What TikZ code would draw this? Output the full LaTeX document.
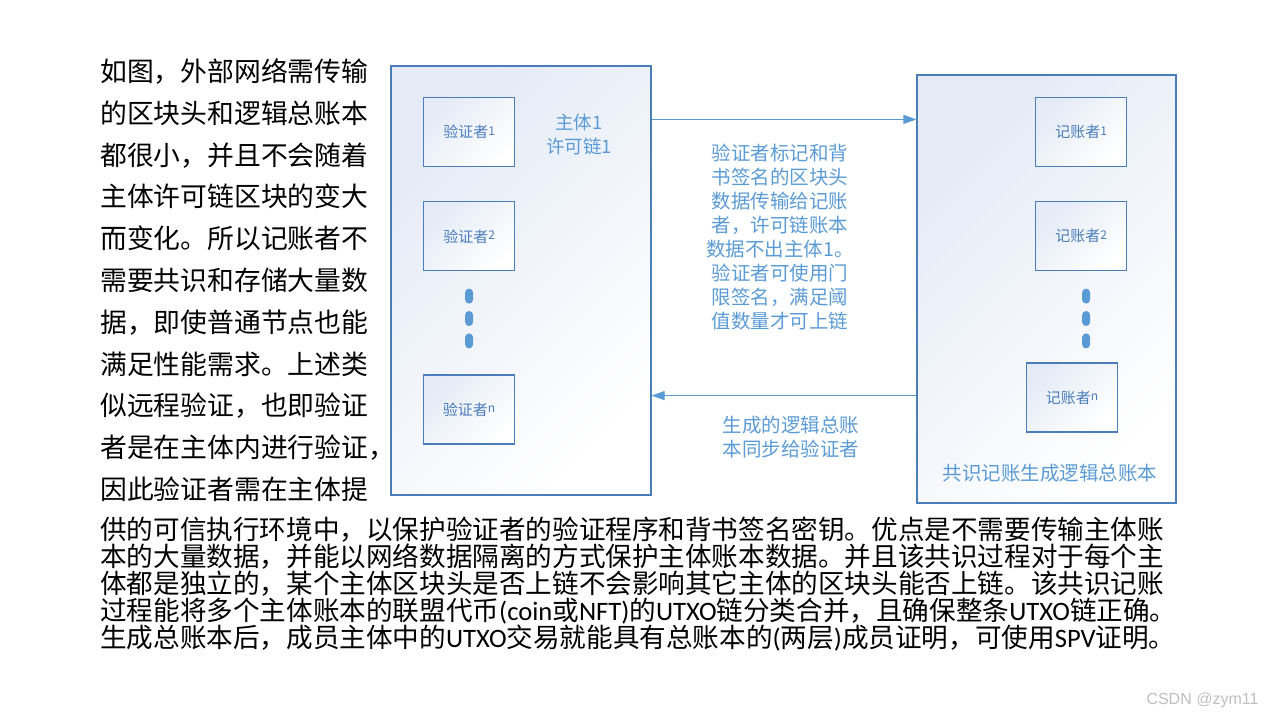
\documentclass[tikz,border=0pt]{standalone}
\usepackage{fontspec}
\setmainfont{Noto Sans CJK SC}
\newfontfamily\latinfont{Carlito}
\newfontfamily\wmfont{Liberation Sans}
\usetikzlibrary{arrows.meta, positioning}
\definecolor{boxedge}{RGB}{74,126,187}
\definecolor{labelblue}{RGB}{91,155,213}
\definecolor{boxtint}{RGB}{228,234,246}
\newcommand{\idx}[1]{\raisebox{0.3ex}{\fontsize{12pt}{12pt}\selectfont #1}}
\newcommand{\lat}[1]{{\latinfont #1}}

\begin{document}
\begin{tikzpicture}[
    x=1pt, y=-1pt,
    node distance=34pt,
    panel/.style={rectangle, draw=boxedge, line width=1.2pt, top color=boxtint, bottom color=white, shading angle=45, inner sep=0pt},
    member/.style={panel, minimum width=91pt, minimum height=69pt, font=\fontsize{15pt}{18pt}\selectfont, text=boxedge},
    pill/.style={rectangle, rounded corners=4pt, fill=labelblue, minimum width=8pt, minimum height=15pt, inner sep=0pt},
    note/.style={align=center, text=labelblue, font=\fontsize{19.5pt}{24pt}\selectfont, inner sep=0pt},
    arr/.style={-{Triangle[length=13pt, width=9pt]}, line width=1.2pt, draw=labelblue},
    para/.style={align=left, anchor=north west, inner sep=0pt},
]
\useasboundingbox (0,0) rectangle (1280,720);

% subject 1 with its validators
\node[panel, minimum width=260pt, minimum height=429pt] (subj) at (521,280.5) {};
\node[member, anchor=north west] (val1) at (423,97) {验证者\idx{1}};
\node[member, below=of val1] (val2) {验证者\idx{2}};
\node[member, below=103pt of val2] (valn) {验证者\idx{n}};
\node[pill, below=17pt of val2] (vdot1) {};
\node[pill, below=7pt of vdot1] (vdot2) {};
\node[pill, below=7pt of vdot2] (vdot3) {};
\node[note, font=\fontsize{18.5pt}{24pt}\selectfont] (subjname) at (579,134) {主体1\\许可链1};

% bookkeepers
\node[panel, minimum width=259pt, minimum height=428pt] (acct) at (1046.5,289) {};
\node[member, anchor=north west] (rec1) at (1035,97) {记账者\idx{1}};
\node[member, below=of rec1] (rec2) {记账者\idx{2}};
\node[member, below=91pt of rec2, xshift=-9pt] (recn) {记账者\idx{n}};
\node[pill, below=17pt of rec2, xshift=5pt] (rdot1) {};
\node[pill, below=7pt of rdot1] (rdot2) {};
\node[pill, below=7pt of rdot2] (rdot3) {};
\node[note] (acctname) at (1050,473) {共识记账生成逻辑总账本};

% messages between the two
\coordinate (sendfrom) at ([yshift=-54pt]subj.north east);
\coordinate (backfrom) at ([yshift=100pt]subj.south east);
\draw[arr] (sendfrom) -- (sendfrom -| acct.west);
\draw[arr] (backfrom -| acct.west) -- (backfrom);
\node[note] (sendnote) at (780,237.5) {验证者标记和背\\书签名的区块头\\数据传输给记账\\者，许可链账本\\数据不出主体1。\\验证者可使用门\\限签名，满足阈\\值数量才可上链};
\node[note] (backnote) at (791,437) {生成的逻辑总账\\本同步给验证者};

% running text
\node[para, font=\fontsize{26.8pt}{41.8pt}\selectfont] (introtext) at (100,58.5) {如图，外部网络需传输\\的区块头和逻辑总账本\\都很小，并且不会随着\\主体许可链区块的变大\\而变化。所以记账者不\\需要共识和存储大量数\\据，即使普通节点也能\\满足性能需求。上述类\\似远程验证，也即验证\\者是在主体内进行验证，\\因此验证者需在主体提};
\node[para, font=\fontsize{26.6pt}{27pt}\selectfont] (moretext) at (100,517) {供的可信执行环境中，以保护验证者的验证程序和背书签名密钥。优点是不需要传输主体账\\本的大量数据，并能以网络数据隔离的方式保护主体账本数据。并且该共识过程对于每个主\\体都是独立的，某个主体区块头是否上链不会影响其它主体的区块头能否上链。该共识记账\\过程能将多个主体账本的联盟代币\lat{(coin}或\lat{NFT)}的\lat{UTXO}链分类合并，且确保整条\lat{UTXO}链正确。\\生成总账本后，成员主体中的\lat{UTXO}交易就能具有总账本的\lat{(}两层\lat{)}成员证明，可使用\lat{SPV}证明。};

\node[anchor=east, text=gray!50, font=\wmfont\fontsize{16pt}{18pt}\selectfont] (credit) at (1262,700) {CSDN @zym11};
\end{tikzpicture}
\end{document}
